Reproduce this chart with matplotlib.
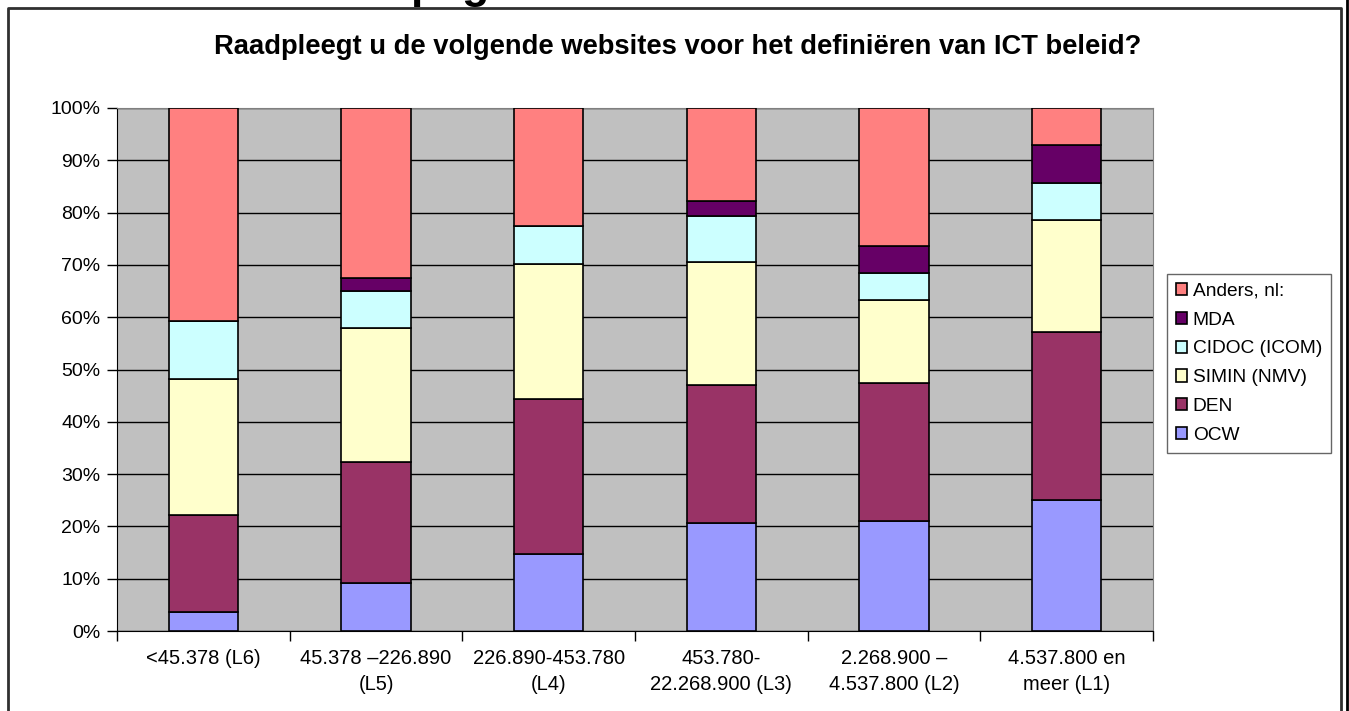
import numpy as np
import matplotlib.pyplot as plt
from matplotlib.lines import Line2D

plt.rcParams['font.family'] = ['Liberation Sans', 'DejaVu Sans']

# population classes (x axis)
klassen = ['<45.378 (L6)', '45.378 \u2013226.890\n(L5)', '226.890-453.780\n(L4)',
           '453.780-\n22.268.900 (L3)', '2.268.900 \u2013\n4.537.800 (L2)',
           '4.537.800 en\nmeer (L1)']

# share of respondents per website, in percent (stacked bottom -> top)
ocw = [3.7, 9.2, 14.7, 20.6, 21.1, 25.0]
den = [18.5, 23.2, 29.6, 26.5, 26.3, 32.1]
simin = [25.9, 25.5, 25.9, 23.5, 15.8, 21.5]
cidoc = [11.2, 7.1, 7.3, 8.8, 5.2, 7.1]
mda = [0.0, 2.4, 0.0, 2.9, 5.3, 7.2]
anders = [40.7, 32.6, 22.5, 17.7, 26.3, 7.1]

reeksen = [('OCW', ocw, '#9999FF'), ('DEN', den, '#993366'),
           ('SIMIN (NMV)', simin, '#FFFFCC'), ('CIDOC (ICOM)', cidoc, '#CCFFFF'),
           ('MDA', mda, '#660066'), ('Anders, nl:', anders, '#FF8080')]

W, H = 1349, 711
fig = plt.figure(figsize=(W / 100, H / 100), dpi=100)

# chart border, open at the bottom, plus the outer frame line on the right
rand = Line2D([8 / W, 8 / W, 1341 / W, 1341 / W], [-0.1, 1 - 8 / H, 1 - 8 / H, -0.1],
              transform=fig.transFigure, color='#303030', lw=2)
fig.add_artist(rand)
fig.add_artist(Line2D([1347 / W, 1347 / W], [0, 1], transform=fig.transFigure,
                      color='black', lw=2))

# slide heading, clipped by the top of the image
fig.text(410 / W, 1 + 2 / H, 'pag', fontsize=32, fontweight='bold', ha='left', va='baseline')

fig.text(678 / W, 1 - 47 / H, 'Raadpleegt u de volgende websites voor het defini\u00ebren van ICT beleid?',
         fontsize=19.7, fontweight='bold', ha='center', va='center')

ax = fig.add_axes([117 / W, 80 / H, (1153 - 117) / W, (631 - 108) / H])
ax.set_facecolor('#C0C0C0')

x = np.arange(len(klassen))
bottom = np.zeros(len(klassen))
handles = []
for naam, waarden, kleur in reeksen:
    waarden = np.array(waarden)
    b = ax.bar(x, waarden, width=0.4, bottom=bottom, color=kleur, edgecolor='black',
               linewidth=1.2, label=naam, zorder=3)
    handles.append(b)
    bottom += waarden

ax.set_xlim(-0.5, len(klassen) - 0.5)
ax.set_ylim(0, 100)
ax.set_yticks(np.arange(0, 101, 10))
ax.set_yticklabels([f'{v}%' for v in range(0, 101, 10)], fontsize=14)
ax.yaxis.grid(True, color='black', lw=1)
ax.set_axisbelow(True)

ax.set_xticks(np.arange(-0.5, len(klassen), 1))
ax.set_xticklabels([])
ax.set_xticks(x, minor=True)
ax.set_xticklabels(klassen, minor=True, fontsize=14.5, linespacing=1.45)
ax.tick_params(axis='x', which='minor', length=0, pad=13)
ax.tick_params(axis='both', which='major', direction='out', length=7, width=1, color='black')
ax.tick_params(axis='y', pad=5)

for s in ['top', 'right']:
    ax.spines[s].set_color('#808080')
for s in ['left', 'bottom']:
    ax.spines[s].set_color('black')

leg = fig.legend(handles[::-1], [r[0] for r in reeksen][::-1], loc='upper left',
                 bbox_to_anchor=(1167 / W, 1 - 274 / H), fontsize=13.8, frameon=True,
                 fancybox=False, edgecolor='#404040', handlelength=0.6, handleheight=0.6,
                 handletextpad=0.3, labelspacing=0.62, borderpad=0.45, borderaxespad=0)
leg.get_frame().set_linewidth(1)

fig.savefig('out.png', dpi=100)
